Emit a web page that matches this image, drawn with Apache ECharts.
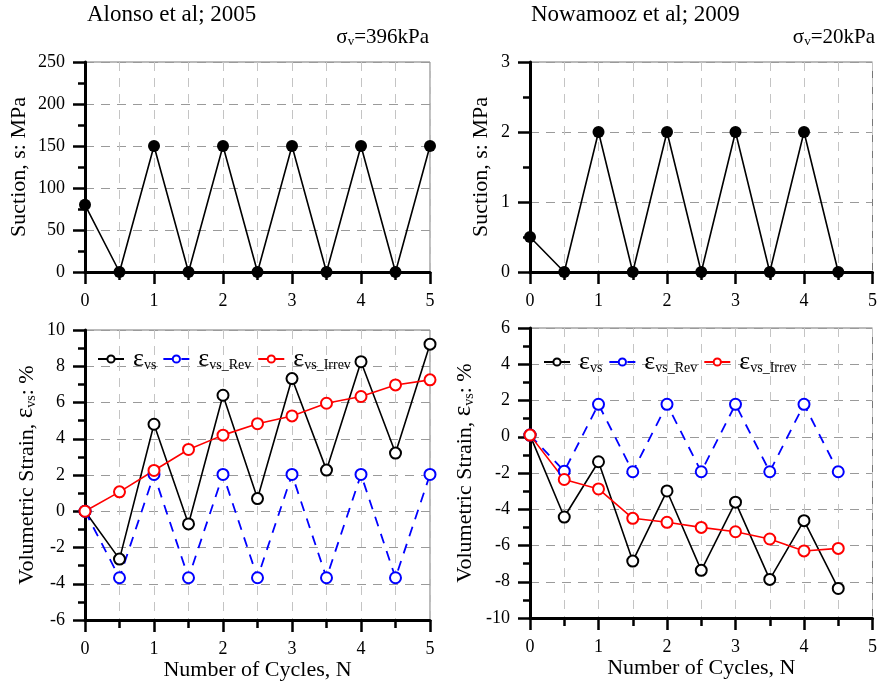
<!DOCTYPE html>
<html><head><meta charset="utf-8">
<script src="https://cdn.jsdelivr.net/npm/echarts@6/dist/echarts.min.js"></script>
<style>html,body{margin:0;padding:0;background:#fff}#c{width:880px;height:686px}</style>
</head><body><div id="c"></div>
<script>
// ---- data ----
const cyclesAlonso = [0, 0.5, 1, 1.5, 2, 2.5, 3, 3.5, 4, 4.5, 5];
const cyclesNowamooz = [0, 0.5, 1, 1.5, 2, 2.5, 3, 3.5, 4, 4.5];
const suctionAlonso = [80, 0, 150, 0, 150, 0, 150, 0, 150, 0, 150];
const suctionNowamooz = [0.5, 0, 2, 0, 2, 0, 2, 0, 2, 0];
const evsAlonso = [0, -2.64, 4.8, -0.7, 6.4, 0.7, 7.32, 2.27, 8.25, 3.21, 9.22];
const evsRevAlonso = [0, -3.67, 2.03, -3.67, 2.03, -3.67, 2.03, -3.67, 2.03, -3.67, 2.03];
const evsIrrevAlonso = [0, 1.07, 2.25, 3.41, 4.2, 4.83, 5.26, 5.96, 6.33, 6.97, 7.25];
const evsNowamooz = [0.09, -4.43, -1.38, -6.86, -2.99, -7.37, -3.61, -7.87, -4.63, -8.37];
const evsRevNowamooz = [0.09, -1.9, 1.79, -1.93, 1.79, -1.93, 1.79, -1.93, 1.79, -1.93];
const evsIrrevNowamooz = [0.09, -2.36, -2.88, -4.5, -4.72, -5.0, -5.24, -5.64, -6.3, -6.16];
const seriesNames = ['εvs', 'εvs_Rev', 'εvs_Irrev'];
const titles = ['Alonso et al; 2005', 'Nowamooz et al; 2009'];
const stressLabels = ['=396kPa', '=20kPa'];

const font = '"Liberation Serif", "Times New Roman", serif';
const zip = (xs, ys) => xs.map((x, i) => [x, ys[i]]);

function xAxisCfg(gi, withName) {
  return {
    type: 'value', gridIndex: gi, min: 0, max: 5, interval: 1,
    axisLine: { show: true, onZero: false, lineStyle: { color: '#000', width: 3 } },
    axisTick: { show: true, length: 12, lineStyle: { color: '#000', width: 2.5 } },
    minorTick: { show: true, splitNumber: 2, length: 8, lineStyle: { color: '#000', width: 2.5 } },
    axisLabel: { margin: 20, color: '#000', fontSize: 18, fontFamily: font },
    splitLine: { show: true, lineStyle: { color: '#c4c4c4', type: [9, 7], width: 1 } },
    minorSplitLine: { show: true, lineStyle: { color: '#c4c4c4', type: [9, 7], width: 1 } },
    name: withName ? 'Number of Cycles, N' : '', nameLocation: 'middle', nameGap: 39,
    nameTextStyle: { color: '#000', fontSize: 22, fontFamily: font }
  };
}
function yAxisCfg(gi, min, max, interval, name, gap) {
  return {
    type: 'value', gridIndex: gi, min: min, max: max, interval: interval,
    axisLine: { show: true, onZero: false, lineStyle: { color: '#000', width: 3 } },
    axisTick: { show: true, length: 12, lineStyle: { color: '#000', width: 2.5 } },
    minorTick: { show: true, splitNumber: 2, length: 7, lineStyle: { color: '#000', width: 2.5 } },
    axisLabel: { margin: 20, color: '#000', fontSize: 18, fontFamily: font },
    splitLine: { show: true, lineStyle: { color: '#9a9a9a', type: [9, 7], width: 1 } },
    name: name, nameLocation: 'middle', nameRotate: 90, nameGap: gap,
    nameTextStyle: {
      color: '#000', fontSize: 22, fontFamily: font,
      rich: {
        t: { fontSize: 22, fontFamily: font, color: '#000', verticalAlign: 'bottom' },
        e: { fontSize: 25, fontFamily: font, color: '#000', verticalAlign: 'bottom' },
        s: { fontSize: 14, fontFamily: font, color: '#000', verticalAlign: 'bottom' }
      }
    }
  };
}
const strainName = '{t|Volumetric Strain, }{e|ε}{s|vs}{t|: %}';

function suctionSeries(gi, xs, ys) {
  return {
    type: 'line', xAxisIndex: gi, yAxisIndex: gi, data: zip(xs, ys),
    symbol: 'circle', symbolSize: 12, itemStyle: { color: '#000' },
    lineStyle: { color: '#000', width: 1.6 }, silent: true, animation: false
  };
}
function strainSeries(gi, name, xs, ys, color, dashed) {
  return {
    type: 'line', name: name, xAxisIndex: gi, yAxisIndex: gi, data: zip(xs, ys),
    symbol: 'emptyCircle', symbolSize: 11,
    itemStyle: { color: color, borderColor: color, borderWidth: 1.6 },
    lineStyle: { color: color, width: dashed ? 1.8 : 1.6, type: dashed ? [10, 8] : 'solid' },
    silent: true, animation: false
  };
}
const legendRich = {
  e: { fontSize: 26, fontFamily: font, color: '#000', verticalAlign: 'bottom', padding: [0, 0, 0, 4] },
  s: { fontSize: 14, fontFamily: font, color: '#000', verticalAlign: 'bottom' }
};
function legendCfg(left, top) {
  return {
    left: left, top: top, data: seriesNames, itemWidth: 26, itemHeight: 9, itemGap: 6,
    selectedMode: false, padding: 0,
    formatter: n => '{e|ε}{s|' + n.slice(1) + '}',
    textStyle: { rich: legendRich }
  };
}
const titleStyle = { fontFamily: font, fontSize: 23, fontWeight: 'normal', color: '#000' };
const sigmaRich = {
  a: { fontFamily: font, fontSize: 21, fontWeight: 'normal', color: '#000', verticalAlign: 'bottom' },
  b: { fontFamily: font, fontSize: 13, fontWeight: 'normal', color: '#000', verticalAlign: 'bottom' }
};
const sigmaStyle = { fontFamily: font, fontSize: 21, fontWeight: 'normal', color: '#000', rich: sigmaRich };

const option = {
  backgroundColor: '#fff',
  animation: false,
  title: [
    { text: titles[0], left: 87, top: 3, padding: 0, textStyle: titleStyle },
    { text: '{a|σ}{b|v}{a|' + stressLabels[0] + '}', right: 451, top: 27, padding: 0, textStyle: sigmaStyle },
    { text: titles[1], left: 531, top: 3, padding: 0, textStyle: titleStyle },
    { text: '{a|σ}{b|v}{a|' + stressLabels[1] + '}', right: 5, top: 27, padding: 0, textStyle: sigmaStyle }
  ],
  grid: [
    { left: 85, top: 62, width: 345, height: 210, show: true, borderColor: '#777', borderWidth: 1 },
    { left: 530, top: 62, width: 345, height: 210, show: true, borderColor: '#777', borderWidth: 1 },
    { left: 85, top: 330, width: 345, height: 290, show: true, borderColor: '#777', borderWidth: 1 },
    { left: 530, top: 328, width: 345, height: 290, show: true, borderColor: '#777', borderWidth: 1 }
  ],
  xAxis: [xAxisCfg(0, false), xAxisCfg(1, false), xAxisCfg(2, true), xAxisCfg(3, true)],
  yAxis: [
    yAxisCfg(0, 0, 250, 50, 'Suction, s: MPa', 55),
    yAxisCfg(1, 0, 3, 1, 'Suction, s: MPa', 38),
    yAxisCfg(2, -6, 10, 2, strainName, 47),
    yAxisCfg(3, -10, 6, 2, strainName, 54)
  ],
  legend: [legendCfg(97, 346), legendCfg(543, 349)],
  series: [
    suctionSeries(0, cyclesAlonso, suctionAlonso),
    suctionSeries(1, cyclesNowamooz, suctionNowamooz),
    strainSeries(2, seriesNames[0], cyclesAlonso, evsAlonso, '#000', false),
    strainSeries(2, seriesNames[1], cyclesAlonso, evsRevAlonso, '#0000ff', true),
    strainSeries(2, seriesNames[2], cyclesAlonso, evsIrrevAlonso, '#ff0000', false),
    strainSeries(3, seriesNames[0], cyclesNowamooz, evsNowamooz, '#000', false),
    strainSeries(3, seriesNames[1], cyclesNowamooz, evsRevNowamooz, '#0000ff', true),
    strainSeries(3, seriesNames[2], cyclesNowamooz, evsIrrevNowamooz, '#ff0000', false)
  ]
};
const chart = echarts.init(document.getElementById('c'), null, { renderer: 'canvas' });
chart.setOption(option);
</script>
</body></html>
